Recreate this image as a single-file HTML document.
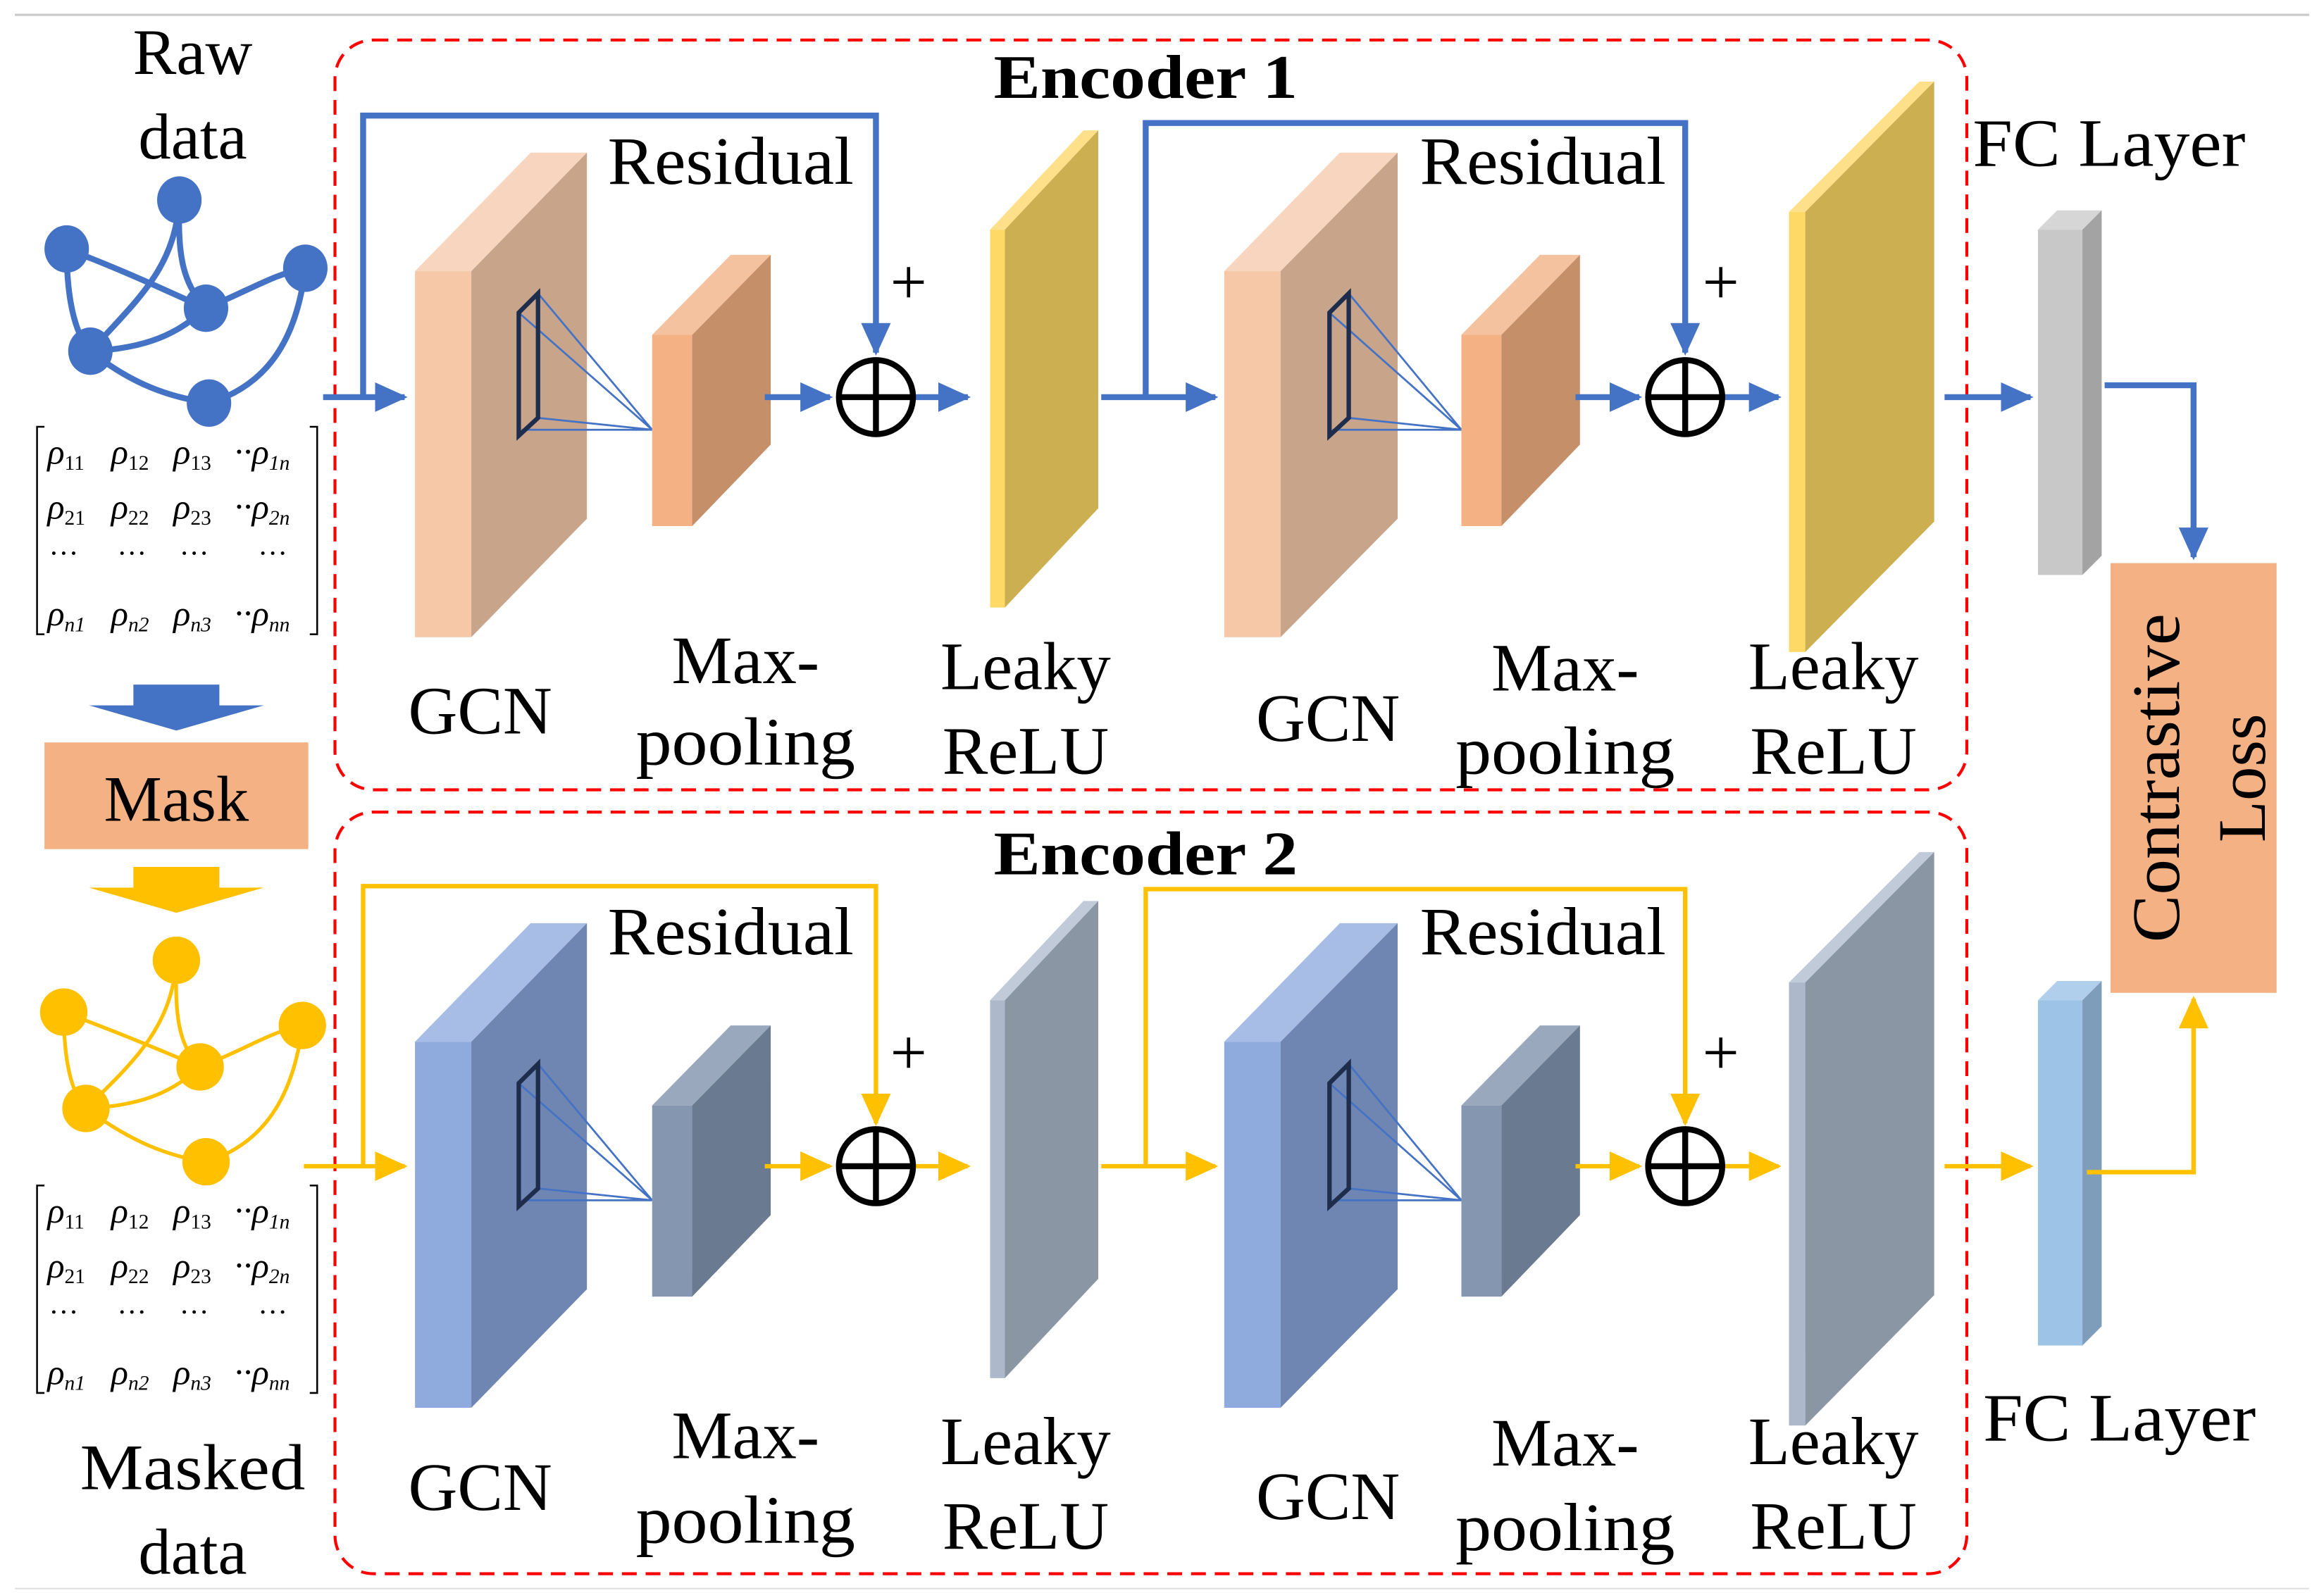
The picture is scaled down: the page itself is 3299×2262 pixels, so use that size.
<!DOCTYPE html>
<html><head><meta charset="utf-8"><style>
html,body{margin:0;padding:0;background:#fff}
svg{display:block}
text{font-family:"Liberation Serif",serif;fill:#000}
</style></head><body>
<svg width="3299" height="2262" viewBox="0 0 1568 1075" preserveAspectRatio="none" xmlns="http://www.w3.org/2000/svg">
<defs>
<marker id="ab" markerUnits="userSpaceOnUse" markerWidth="24" markerHeight="24" refX="20" refY="10" orient="auto"><path d="M0,0 L22,10 L0,20 z" fill="#4472c4"/></marker>
<marker id="ay" markerUnits="userSpaceOnUse" markerWidth="24" markerHeight="24" refX="20" refY="10" orient="auto"><path d="M0,0 L22,10 L0,20 z" fill="#ffc000"/></marker>
</defs>
<line x1="10" y1="10" x2="1558" y2="10" stroke="#c8c8c8" stroke-width="1.5"/>
<line x1="10" y1="1072" x2="1558" y2="1072" stroke="#e0e0e0" stroke-width="1"/>

<rect x="226" y="27" width="1101" height="506" rx="26" fill="none" stroke="#ff0000" stroke-width="2" stroke-dasharray="10,6"/>
<rect x="226" y="548" width="1101" height="514" rx="26" fill="none" stroke="#ff0000" stroke-width="2" stroke-dasharray="10,6"/>
<text x="773" y="66" font-size="42" font-weight="bold" text-anchor="middle" textLength="205" lengthAdjust="spacingAndGlyphs">Encoder 1</text>
<text x="773" y="590" font-size="42" font-weight="bold" text-anchor="middle" textLength="205" lengthAdjust="spacingAndGlyphs">Encoder 2</text>

<text x="130" y="50" font-size="44" text-anchor="middle">Raw</text>
<text x="130" y="107" font-size="44" text-anchor="middle">data</text>
<g stroke="#4472c4" stroke-width="4" fill="none">
<path d="M45,168 C90,185 120,200 139,208"/>
<path d="M121,135 C118,180 95,200 61,237"/>
<path d="M121,135 C120,170 122,190 139,208"/>
<path d="M45,168 C45,200 50,225 61,237"/>
<path d="M61,237 C100,235 120,225 139,208"/>
<path d="M139,208 C170,195 185,185 206,181"/>
<path d="M206,181 C200,230 180,260 141,272"/>
<path d="M61,237 C90,260 115,268 141,272"/>
</g>
<g fill="#4472c4">
<ellipse cx="45" cy="168" rx="15" ry="16"/><ellipse cx="121" cy="135" rx="15" ry="16"/>
<ellipse cx="206" cy="181" rx="15" ry="16"/><ellipse cx="139" cy="208" rx="15" ry="16"/>
<ellipse cx="61" cy="237" rx="15" ry="16"/><ellipse cx="141" cy="272" rx="15" ry="16"/>
</g>

<g id="mat" font-size="24" font-style="italic">
<path d="M30,288 L25,288 L25,428 L30,428 M209,288 L214,288 L214,428 L209,428" stroke="#000" stroke-width="1.2" fill="none"/>
<text x="32" y="313">ρ<tspan font-size="14" dy="4" font-style="normal">11</tspan></text>
<text x="75" y="313">ρ<tspan font-size="14" dy="4" font-style="normal">12</tspan></text>
<text x="117" y="313">ρ<tspan font-size="14" dy="4" font-style="normal">13</tspan></text>
<text x="158" y="313">··ρ<tspan font-size="14" dy="4">1n</tspan></text>
<text x="32" y="350">ρ<tspan font-size="14" dy="4" font-style="normal">21</tspan></text>
<text x="75" y="350">ρ<tspan font-size="14" dy="4" font-style="normal">22</tspan></text>
<text x="117" y="350">ρ<tspan font-size="14" dy="4" font-style="normal">23</tspan></text>
<text x="158" y="350">··ρ<tspan font-size="14" dy="4">2n</tspan></text>
<text x="33" y="380" font-style="normal" font-size="20">···</text>
<text x="79" y="380" font-style="normal" font-size="20">···</text>
<text x="121" y="380" font-style="normal" font-size="20">···</text>
<text x="174" y="380" font-style="normal" font-size="20">···</text>
<text x="32" y="422">ρ<tspan font-size="14" dy="4">n1</tspan></text>
<text x="75" y="422">ρ<tspan font-size="14" dy="4">n2</tspan></text>
<text x="117" y="422">ρ<tspan font-size="14" dy="4">n3</tspan></text>
<text x="158" y="422">··ρ<tspan font-size="14" dy="4">nn</tspan></text>
</g>

<polygon points="90,462 148,462 148,476 178,476 119,493 60,476 90,476" fill="#4472c4"/>
<rect x="30" y="501" width="178" height="72" fill="#f4b183"/>
<text x="119" y="554" font-size="44" text-anchor="middle">Mask</text>
<polygon points="90,585 148,585 148,599 178,599 119,616 60,599 90,599" fill="#ffc000"/>

<g stroke="#ffc000" stroke-width="2.5" fill="none">
<path d="M43,683 C88,700 116,712 135,720"/>
<path d="M119,648 C116,692 92,715 58,748"/>
<path d="M119,648 C118,685 120,705 135,720"/>
<path d="M43,683 C43,715 48,738 58,748"/>
<path d="M58,748 C98,746 117,736 135,720"/>
<path d="M135,720 C166,708 183,696 204,692"/>
<path d="M204,692 C198,740 178,772 139,784"/>
<path d="M58,748 C88,770 112,780 139,784"/>
</g>
<g fill="#ffc000">
<ellipse cx="43" cy="683" rx="16" ry="16"/><ellipse cx="119" cy="648" rx="16" ry="16"/>
<ellipse cx="204" cy="692" rx="16" ry="16"/><ellipse cx="135" cy="720" rx="16" ry="16"/>
<ellipse cx="58" cy="748" rx="16" ry="16"/><ellipse cx="139" cy="784" rx="16" ry="16"/>
</g>
<use href="#mat" transform="translate(0,512)"/>
<text x="130" y="1005" font-size="44" text-anchor="middle" textLength="152" lengthAdjust="spacingAndGlyphs">Masked</text>
<text x="130" y="1062" font-size="44" text-anchor="middle">data</text>

<!-- Encoder 1 -->
<polygon points="280,183 358,103 396,103 318,183" fill="#f8d5bf"/>
<rect x="280" y="183" width="38" height="247" fill="#f6c8a8"/>
<polygon points="318,183 396,103 396,350 318,430" fill="#c8a48a"/>
<g stroke="#4472c4" stroke-width="1.3" fill="none">
<path d="M350,211 L440,290 M363,198 L440,290 M363,282 L440,290 M352,290 L440,290"/>
</g>
<polygon points="350,211 363,198 363,282 350,294" fill="none" stroke="#1f2d4d" stroke-width="3"/>
<polygon points="440,226 493,172 520,172 467,226" fill="#f5c29f"/>
<rect x="440" y="226" width="27" height="129" fill="#f4b183"/>
<polygon points="467,226 520,172 520,300 467,355" fill="#c58f6a"/>
<polygon points="668,155 731,88 741,88 678,155" fill="#ffe08a"/>
<rect x="668" y="155" width="10" height="255" fill="#ffd966"/>
<polygon points="678,155 741,88 741,343 678,410" fill="#ccaf50"/>
<polygon points="826,183 904,103 943,103 864,183" fill="#f8d5bf"/>
<rect x="826" y="183" width="38" height="247" fill="#f6c8a8"/>
<polygon points="864,183 943,103 943,350 864,430" fill="#c8a48a"/>
<g stroke="#4472c4" stroke-width="1.3" fill="none">
<path d="M897,211 L986,290 M910,198 L986,290 M910,282 L986,290 M899,290 L986,290"/>
</g>
<polygon points="897,211 910,198 910,282 897,294" fill="none" stroke="#1f2d4d" stroke-width="3"/>
<polygon points="986,226 1039,172 1066,172 1013,226" fill="#f5c29f"/>
<rect x="986" y="226" width="27" height="129" fill="#f4b183"/>
<polygon points="1013,226 1066,172 1066,300 1013,355" fill="#c58f6a"/>
<polygon points="1207,143 1295,55 1305,55 1218,143" fill="#ffe08a"/>
<rect x="1207" y="143" width="11" height="297" fill="#ffd966"/>
<polygon points="1218,143 1305,55 1305,352 1218,440" fill="#ccaf50"/>
<polygon points="1375,155 1388,142 1418,142 1405,155" fill="#d6d6d6"/>
<rect x="1375" y="155" width="30" height="233" fill="#c8c8c8"/>
<polygon points="1405,155 1418,142 1418,375 1405,388" fill="#a3a3a3"/>

<g stroke="#4472c4" stroke-width="4" fill="none">
<line x1="218" y1="268" x2="273" y2="268" marker-end="url(#ab)"/>
<polyline points="245,268 245,78 591,78 591,238" marker-end="url(#ab)"/>
<line x1="516" y1="268" x2="560" y2="268" marker-end="url(#ab)"/>
<line x1="617" y1="268" x2="653" y2="268" marker-end="url(#ab)"/>
<line x1="743" y1="268" x2="820" y2="268" marker-end="url(#ab)"/>
<polyline points="773,268 773,83 1137,83 1137,238" marker-end="url(#ab)"/>
<line x1="1063" y1="268" x2="1106" y2="268" marker-end="url(#ab)"/>
<line x1="1163" y1="268" x2="1200" y2="268" marker-end="url(#ab)"/>
<line x1="1312" y1="268" x2="1370" y2="268" marker-end="url(#ab)"/>
<polyline points="1420,260 1480,260 1480,376" marker-end="url(#ab)"/>
</g>
<g stroke="#000" stroke-width="4" fill="none">
<circle cx="591" cy="268" r="25"/><path d="M566,268 H616 M591,243 V293"/>
<circle cx="1137" cy="268" r="25"/><path d="M1112,268 H1162 M1137,243 V293"/>
</g>
<text x="613" y="205" font-size="44" text-anchor="middle">+</text>
<text x="1161" y="205" font-size="44" text-anchor="middle">+</text>
<text x="493" y="124" font-size="46" text-anchor="middle" textLength="166" lengthAdjust="spacingAndGlyphs">Residual</text>
<text x="1041" y="124" font-size="46" text-anchor="middle" textLength="166" lengthAdjust="spacingAndGlyphs">Residual</text>
<g font-size="46" text-anchor="middle">
<text x="324" y="495">GCN</text>
<text x="503" y="461">Max-</text><text x="503" y="516" textLength="148" lengthAdjust="spacingAndGlyphs">pooling</text>
<text x="692" y="465">Leaky</text><text x="692" y="522">ReLU</text>
<text x="896" y="500">GCN</text>
<text x="1056" y="466">Max-</text><text x="1056" y="522" textLength="148" lengthAdjust="spacingAndGlyphs">pooling</text>
<text x="1237" y="465">Leaky</text><text x="1237" y="522">ReLU</text>
<text x="1423" y="112" textLength="184" lengthAdjust="spacingAndGlyphs">FC Layer</text>
<text x="1430" y="972" textLength="184" lengthAdjust="spacingAndGlyphs">FC Layer</text>
</g>

<rect x="1424" y="380" width="112" height="290" fill="#f4b183"/>
<text transform="translate(1470,525) rotate(-90)" font-size="46" text-anchor="middle" textLength="222" lengthAdjust="spacingAndGlyphs">Contrastive</text>
<text transform="translate(1528,525) rotate(-90)" font-size="46" text-anchor="middle">Loss</text>

<!-- Encoder 2 -->
<polygon points="280,703 358,623 396,623 318,703" fill="#a7bde6"/>
<rect x="280" y="703" width="38" height="247" fill="#8faadc"/>
<polygon points="318,703 396,623 396,870 318,950" fill="#6f86b2"/>
<g stroke="#4472c4" stroke-width="1.3" fill="none">
<path d="M350,731 L440,810 M363,718 L440,810 M363,802 L440,810 M352,810 L440,810"/>
</g>
<polygon points="350,731 363,718 363,802 350,814" fill="none" stroke="#1f2d4d" stroke-width="3"/>
<polygon points="440,746 493,692 520,692 467,746" fill="#9aa8be"/>
<rect x="440" y="746" width="27" height="129" fill="#8496b0"/>
<polygon points="467,746 520,692 520,820 467,875" fill="#6a7a90"/>
<polygon points="668,675 731,608 741,608 678,675" fill="#c0cad8"/>
<rect x="668" y="675" width="10" height="255" fill="#adb9ca"/>
<polygon points="678,675 741,608 741,863 678,930" fill="#8a96a4"/>
<polygon points="826,703 904,623 943,623 864,703" fill="#a7bde6"/>
<rect x="826" y="703" width="38" height="247" fill="#8faadc"/>
<polygon points="864,703 943,623 943,870 864,950" fill="#6f86b2"/>
<g stroke="#4472c4" stroke-width="1.3" fill="none">
<path d="M897,731 L986,810 M910,718 L986,810 M910,802 L986,810 M899,810 L986,810"/>
</g>
<polygon points="897,731 910,718 910,802 897,814" fill="none" stroke="#1f2d4d" stroke-width="3"/>
<polygon points="986,746 1039,692 1066,692 1013,746" fill="#9aa8be"/>
<rect x="986" y="746" width="27" height="129" fill="#8496b0"/>
<polygon points="1013,746 1066,692 1066,820 1013,875" fill="#6a7a90"/>
<polygon points="1207,663 1295,575 1305,575 1218,663" fill="#c0cad8"/>
<rect x="1207" y="663" width="11" height="299" fill="#adb9ca"/>
<polygon points="1218,663 1305,575 1305,874 1218,962" fill="#8a96a4"/>
<polygon points="1375,675 1388,662 1418,662 1405,675" fill="#b0cfec"/>
<rect x="1375" y="675" width="30" height="233" fill="#9dc3e6"/>
<polygon points="1405,675 1418,662 1418,895 1405,908" fill="#7e9dbb"/>

<g stroke="#ffc000" stroke-width="3" fill="none">
<line x1="205" y1="787" x2="273" y2="787" marker-end="url(#ay)"/>
<polyline points="245,787 245,598 591,598 591,758" marker-end="url(#ay)"/>
<line x1="516" y1="787" x2="560" y2="787" marker-end="url(#ay)"/>
<line x1="617" y1="787" x2="653" y2="787" marker-end="url(#ay)"/>
<line x1="743" y1="787" x2="820" y2="787" marker-end="url(#ay)"/>
<polyline points="773,787 773,600 1137,600 1137,758" marker-end="url(#ay)"/>
<line x1="1063" y1="787" x2="1106" y2="787" marker-end="url(#ay)"/>
<line x1="1163" y1="787" x2="1200" y2="787" marker-end="url(#ay)"/>
<line x1="1312" y1="787" x2="1370" y2="787" marker-end="url(#ay)"/>
<polyline points="1408,791 1480,791 1480,674" marker-end="url(#ay)"/>
</g>
<g stroke="#000" stroke-width="4" fill="none">
<circle cx="591" cy="787" r="25"/><path d="M566,787 H616 M591,762 V812"/>
<circle cx="1137" cy="787" r="25"/><path d="M1112,787 H1162 M1137,762 V812"/>
</g>
<text x="613" y="725" font-size="44" text-anchor="middle">+</text>
<text x="1161" y="725" font-size="44" text-anchor="middle">+</text>
<text x="493" y="644" font-size="46" text-anchor="middle" textLength="166" lengthAdjust="spacingAndGlyphs">Residual</text>
<text x="1041" y="644" font-size="46" text-anchor="middle" textLength="166" lengthAdjust="spacingAndGlyphs">Residual</text>
<g font-size="46" text-anchor="middle">
<text x="324" y="1019">GCN</text>
<text x="503" y="984">Max-</text><text x="503" y="1041" textLength="148" lengthAdjust="spacingAndGlyphs">pooling</text>
<text x="692" y="988">Leaky</text><text x="692" y="1045">ReLU</text>
<text x="896" y="1025">GCN</text>
<text x="1056" y="989">Max-</text><text x="1056" y="1046" textLength="148" lengthAdjust="spacingAndGlyphs">pooling</text>
<text x="1237" y="988">Leaky</text><text x="1237" y="1045">ReLU</text>
</g>
</svg>
</body></html>
